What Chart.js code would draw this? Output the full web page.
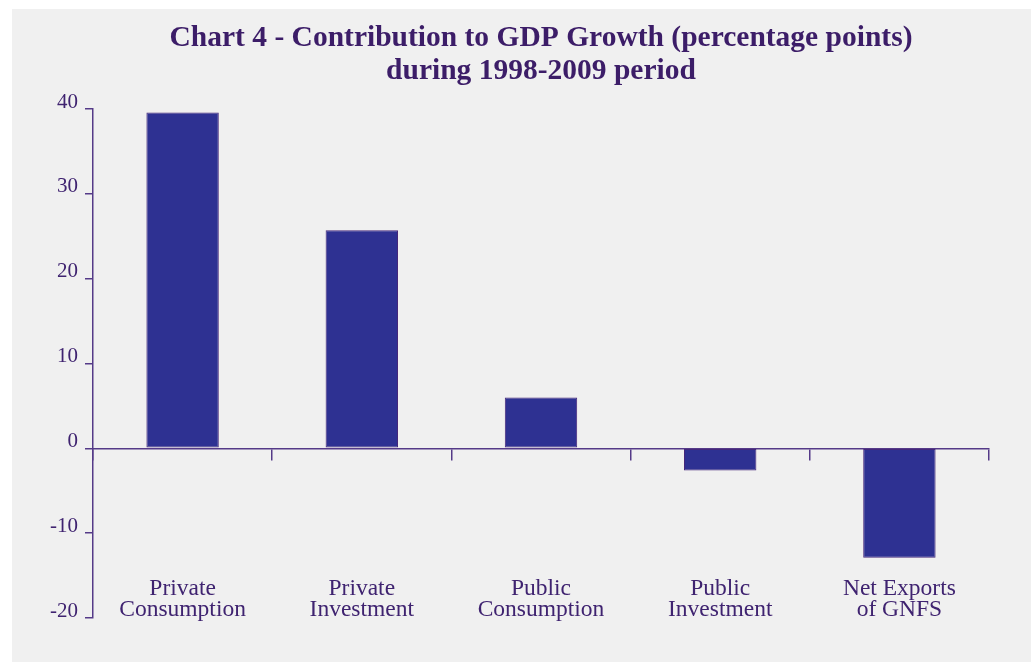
<!DOCTYPE html>
<html>
<head>
<meta charset="utf-8">
<title>Chart 4 - Contribution to GDP Growth</title>
<script src="https://cdn.jsdelivr.net/npm/chart.js@4/dist/chart.umd.min.js"></script>
<style>
  html, body { margin: 0; padding: 0; background: #ffffff; }
  canvas { display: block; }
</style>
</head>
<body>
<canvas id="chart" width="1034" height="662"></canvas>
<script>
// Components of GDP growth and their contribution (percentage points), 1998-2009
const categories = [
  ["Private", "Consumption"],
  ["Private", "Investment"],
  ["Public", "Consumption"],
  ["Public", "Investment"],
  ["Net Exports", "of GNFS"]
];
const contributions = [39.6, 25.7, 6.0, -2.6, -12.9];
const yTicks = [-20, -10, 0, 10, 20, 30, 40];
const titleLines = [
  "Chart 4 - Contribution to GDP Growth (percentage points)",
  "during 1998-2009 period"
];

const PURPLE = '#553a88';
const TEXT = '#3f2370';
const SERIF = '"Liberation Serif", "Times New Roman", serif';

// light grey panel behind the whole chart
const panelBackground = {
  id: 'panelBackground',
  beforeDraw(chart) {
    const ctx = chart.ctx;
    ctx.save();
    ctx.fillStyle = '#ffffff';
    ctx.fillRect(0, 0, chart.width, chart.height);
    ctx.fillStyle = '#f0f0f0';
    ctx.fillRect(12, 9, chart.width - 15, chart.height - 9);
    ctx.restore();
  }
};

new Chart(document.getElementById('chart'), {
  type: 'bar',
  data: {
    labels: categories,
    datasets: [{
      data: contributions,
      backgroundColor: '#2e3192',
      borderColor: '#45277a',
      borderWidth: 1,
      borderSkipped: false,
      categoryPercentage: 1.0,
      barPercentage: 0.404
    }]
  },
  options: {
    responsive: false,
    animation: false,
    devicePixelRatio: 1,
    layout: { padding: { top: 0, right: 45, bottom: 44, left: 0 } },
    plugins: {
      legend: { display: false },
      tooltip: { enabled: false },
      title: {
        display: true,
        text: titleLines,
        fullSize: false,
        color: '#3c1d68',
        font: { family: SERIF, size: 29.5, weight: 'bold', lineHeight: '33px' },
        padding: { top: 22, bottom: 21 }
      }
    },
    scales: {
      x: {
        position: { y: 0 },
        offset: true,
        afterFit(scale) {
          // category labels sit inside the plot, so they need no side padding
          scale.paddingLeft = 0;
          scale.paddingRight = 0;
        },
        grid: {
          display: true,
          offset: true,
          drawOnChartArea: false,
          drawTicks: true,
          tickLength: 11,
          color: PURPLE,
          lineWidth: 1.5
        },
        border: { display: true, color: PURPLE, width: 1.5 },
        ticks: {
          color: TEXT,
          font: { family: SERIF, size: 23.5, lineHeight: '21px' },
          padding: 119,
          maxRotation: 0,
          autoSkip: false
        }
      },
      y: {
        min: -20,
        max: 40,
        afterBuildTicks(scale) {
          scale.ticks = yTicks.map(v => ({ value: v }));
        },
        afterFit(scale) { scale.width = 93; },
        grid: {
          display: true,
          drawOnChartArea: false,
          drawTicks: true,
          tickLength: 8,
          color: PURPLE,
          lineWidth: 1.5
        },
        border: { display: true, color: PURPLE, width: 1.5 },
        ticks: {
          color: TEXT,
          font: { family: SERIF, size: 21 },
          padding: 7,
          labelOffset: -7
        }
      }
    }
  },
  plugins: [panelBackground]
});
</script>
</body>
</html>
